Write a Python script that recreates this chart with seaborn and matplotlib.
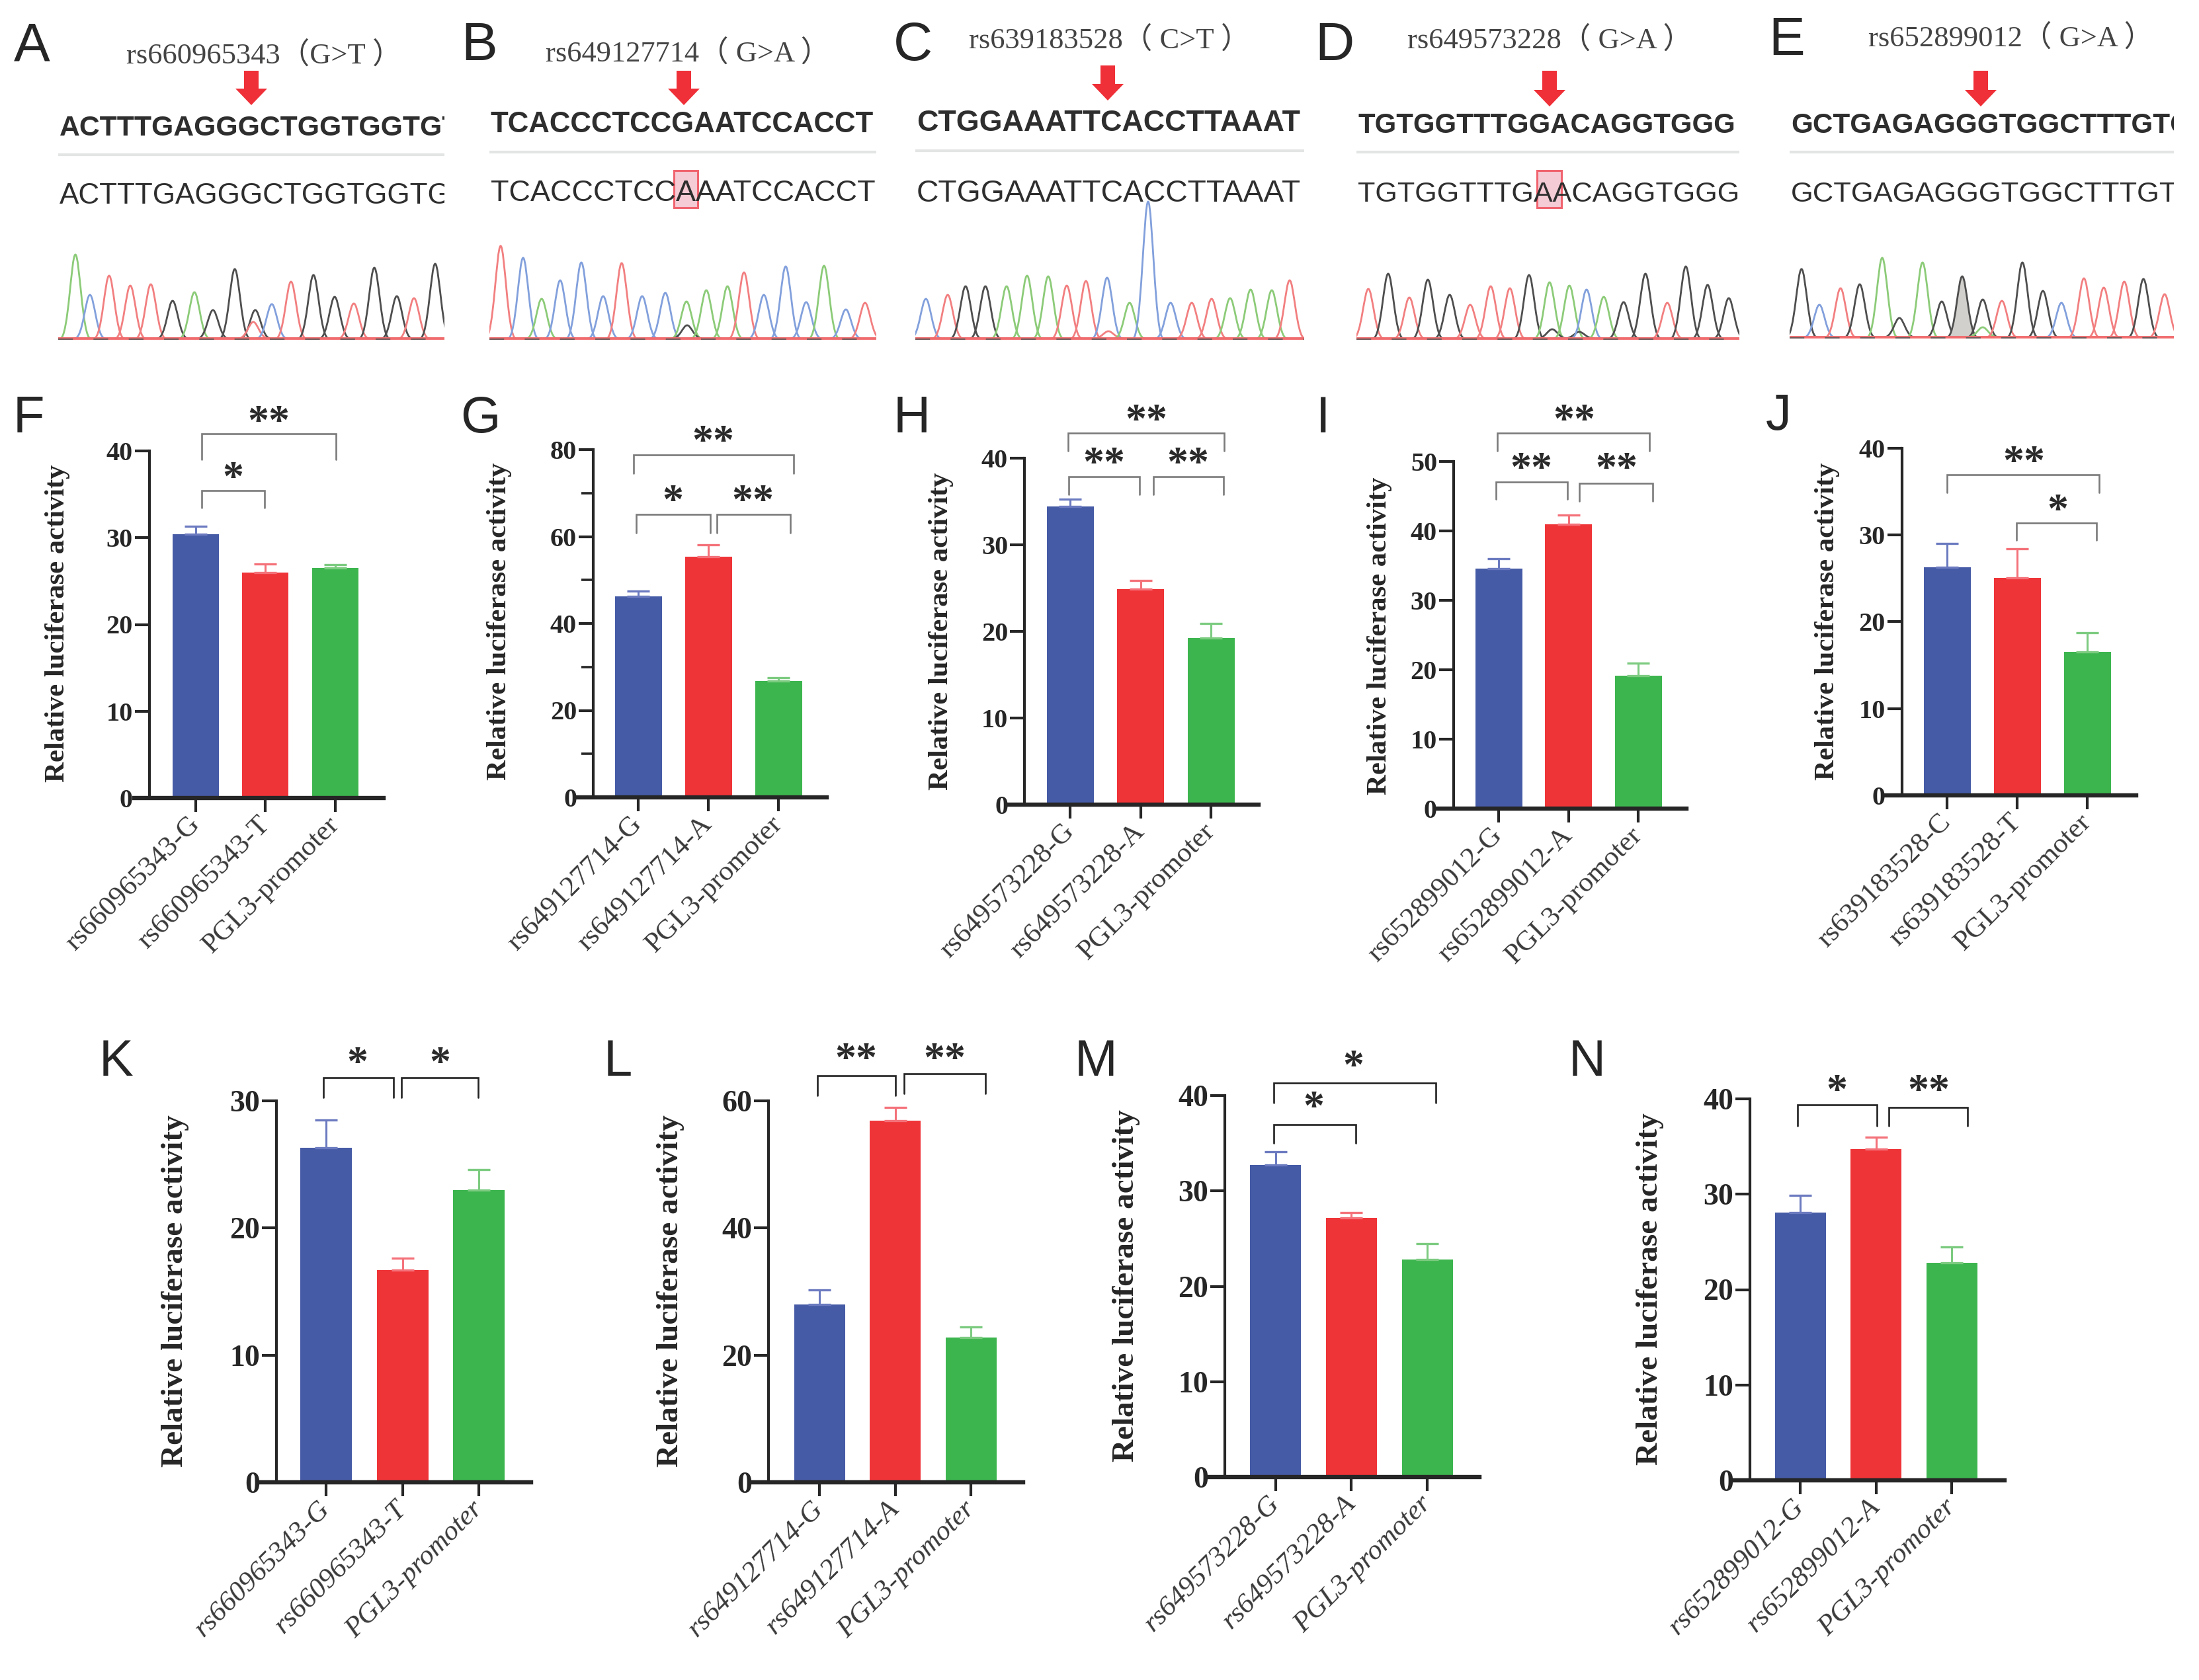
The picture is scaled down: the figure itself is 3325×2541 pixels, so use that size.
#!/usr/bin/env python3
"""
Sanger traces and luciferase reporter bars for the rs SNP panels (A-N)
"""

import matplotlib
matplotlib.use('Agg')
import matplotlib.pyplot as plt
import seaborn as sns
from matplotlib.patches import PathPatch, Rectangle
from matplotlib.path import Path

W, H = 3325, 2541

# --- bar data (mean, top of the error bar) ---
F_labels = ['rs660965343-G', 'rs660965343-T', 'PGL3-promoter']
F_means = [30.4, 26.0, 26.5]
F_upper = [31.3, 27.0, 26.9]

G_labels = ['rs649127714-G', 'rs649127714-A', 'PGL3-promoter']
G_means = [46.3, 55.4, 26.8]
G_upper = [47.5, 58.1, 27.5]

H_labels = ['rs649573228-G', 'rs649573228-A', 'PGL3-promoter']
H_means = [34.4, 24.9, 19.2]
H_upper = [35.3, 25.9, 20.9]

I_labels = ['rs652899012-G', 'rs652899012-A', 'PGL3-promoter']
I_means = [34.6, 41.0, 19.1]
I_upper = [36.0, 42.3, 21.0]

J_labels = ['rs639183528-C', 'rs639183528-T', 'PGL3-promoter']
J_means = [26.3, 25.1, 16.5]
J_upper = [29.0, 28.4, 18.75]

K_labels = F_labels
K_means = [26.3, 16.7, 23.0]
K_upper = [28.5, 17.6, 24.6]

L_labels = G_labels
L_means = [28.0, 56.9, 22.8]
L_upper = [30.3, 59.0, 24.4]

M_labels = H_labels
M_means = [32.7, 27.2, 22.8]
M_upper = [34.1, 27.7, 24.5]

N_labels = I_labels
N_means = [28.1, 34.7, 22.8]
N_upper = [29.85, 36.0, 24.5]

# --- chromatogram peaks: position, height, called base ---
A_pos = [26, 48, 77, 109, 140, 173, 206, 234, 267, 298, 295, 323, 352, 386, 418, 447, 478, 512, 538, 570]
A_height = [127, 66, 95, 80, 82, 57, 70, 43, 105, 43, 25, 52, 86, 96, 63, 53, 107, 64, 61, 113]
A_bases = 'ACTTTGAGGGTCTGGTGGTG'

B_pos = [17, 51, 79, 107, 139, 172, 200, 231, 266, 298, 299, 328, 360, 385, 415, 448, 479, 506, 539, 568]
B_height = [140, 122, 60, 88, 115, 64, 114, 64, 69, 56, 20, 73, 79, 100, 66, 109, 55, 110, 44, 54]
B_bases = 'TCACCCTCCAGAATCCCACT'

C_pos = [16, 49, 76, 106, 138, 169, 201, 229, 258, 290, 292, 324, 352, 386, 418, 448, 476, 507, 539, 566]
C_height = [60, 66, 79, 79, 79, 95, 94, 80, 87, 92, 11, 54, 207, 54, 54, 60, 61, 74, 73, 88]
C_bases = 'CTGGAAATTCTACCTTAAAT'

D_pos = [18, 48, 80, 108, 141, 172, 203, 232, 261, 292, 296, 322, 337, 348, 374, 404, 437, 470, 498, 531, 563]
D_height = [75, 98, 62, 89, 66, 51, 79, 76, 96, 85, 14, 80, 10, 74, 63, 55, 98, 54, 109, 81, 61]
D_bases = 'TGTGGTTTGAGAGCAGGTGGG'

E_pos = [18, 45, 77, 106, 140, 166, 201, 230, 261, 292, 292, 321, 352, 383, 411, 445, 475, 506, 535, 567]
E_height = [103, 49, 74, 80, 120, 29, 113, 54, 92, 57, 15, 55, 113, 70, 52, 89, 75, 84, 88, 65]
E_bases = 'GCTGAGAGGGATGGCTTTGT'

# --- sequence panels ---
seq_panels = [
    dict(letter='A', lx=21, ly=91, title='rs660965343（G>T ）', tx=399, ty=84, arrow=(380, 107, 159),
         x0=88, x1=672, top='ACTTTGAGGGCTGGTGGTGT', low='ACTTTGAGGGCTGGTGGTGT', y_top=194, y_low=297, rule=234,
         seq_fs=30.8, pos=A_pos, height=A_height, bases=A_bases, base_y=512, box=None, fill_peak=None),
    dict(letter='B', lx=697, ly=91, title='rs649127714（ G>A ）', tx=1040, ty=81, arrow=(1034, 107, 159),
         x0=740, x1=1325, top='TCACCCTCCGAATCCACCT', low='TCACCCTCCAAATCCACCT', y_top=189, y_low=293, rule=230,
         seq_fs=31.5, pos=B_pos, height=B_height, bases=B_bases, base_y=512, box=(1019, 1055), fill_peak=None),
    dict(letter='C', lx=1351, ly=91, title='rs639183528（ C>T ）', tx=1678, ty=61, arrow=(1675, 99, 152),
         x0=1384, x1=1972, top='CTGGAAATTCACCTTAAAT', low='CTGGAAATTCACCTTAAAT', y_top=187, y_low=293, rule=228,
         seq_fs=32.3, pos=C_pos, height=C_height, bases=C_bases, base_y=512, box=None, fill_peak=None),
    dict(letter='D', lx=1988, ly=91, title='rs649573228（ G>A ）', tx=2344, ty=61, arrow=(2343, 107, 161),
         x0=2051, x1=2630, top='TGTGGTTTGGACAGGTGGG', low='TGTGGTTTGAACAGGTGGG', y_top=190, y_low=294, rule=230,
         seq_fs=30.2, pos=D_pos, height=D_height, bases=D_bases, base_y=512, box=(2324, 2361), fill_peak=None),
    dict(letter='E', lx=2674, ly=83, title='rs652899012（ G>A ）', tx=3041, ty=58, arrow=(2995, 107, 161),
         x0=2706, x1=3287, top='GCTGAGAGGGTGGCTTTGTG', low='GCTGAGAGGGTGGCTTTGTG', y_top=190, y_low=294, rule=230,
         seq_fs=30.4, pos=E_pos, height=E_height, bases=E_bases, base_y=510, box=None, fill_peak=8),
]

# --- bar panels: pixel frame, bar centres, brackets (x1, x2, top, bottom), stars (text, x, y) ---
bar_panels = [
    dict(letter='F', lx=20, ly=654, labels=F_labels, means=F_means, upper=F_upper,
         ax_x=226, right=580, left=203, y0=1207, ytop=682, ymax=40, major=10, minor=None,
         centres=(296, 402, 507), bw=70, ylab=(87, 943), fs=30.7,
         brackets=[(305, 508, 656, 695), (305, 400, 742, 768)],
         stars=[('**', 406, 626), ('*', 352, 711)]),
    dict(letter='G', lx=696, ly=654, labels=G_labels, means=G_means, upper=G_upper,
         ax_x=897, right=1250, left=874, y0=1206, ytop=680, ymax=80, major=20, minor=10,
         centres=(965, 1071, 1177), bw=71, ylab=(755, 940), fs=30.7,
         brackets=[(958, 1200, 688, 716), (962, 1074, 778, 806), (1084, 1195, 778, 806)],
         stars=[('**', 1078, 656), ('*', 1017, 746), ('**', 1138, 746)]),
    dict(letter='H', lx=1351, ly=654, labels=H_labels, means=H_means, upper=H_upper,
         ax_x=1549, right=1903, left=1526, y0=1217, ytop=693, ymax=40, major=10, minor=None,
         centres=(1618, 1725, 1831), bw=71, ylab=(1423, 955), fs=30.7,
         brackets=[(1615, 1851, 655, 682), (1616, 1723, 721, 748), (1744, 1850, 721, 748)],
         stars=[('**', 1733, 624), ('**', 1669, 689), ('**', 1796, 689)]),
    dict(letter='I', lx=1990, ly=654, labels=I_labels, means=I_means, upper=I_upper,
         ax_x=2198, right=2550, left=2174, y0=1223, ytop=698, ymax=50, major=10, minor=None,
         centres=(2266, 2371, 2477), bw=71, ylab=(2086, 962), fs=30.7,
         brackets=[(2264, 2494, 655, 682), (2262, 2370, 729, 755), (2388, 2499, 731, 758)],
         stars=[('**', 2380, 624), ('**', 2315, 697), ('**', 2444, 697)]),
    dict(letter='J', lx=2670, ly=650, labels=J_labels, means=J_means, upper=J_upper,
         ax_x=2876, right=3230, left=2852, y0=1203, ytop=678, ymax=40, major=10, minor=None,
         centres=(2944, 3050, 3156), bw=71, ylab=(2763, 940), fs=30.7,
         brackets=[(2944, 3174, 718, 745), (3049, 3170, 791, 817)],
         stars=[('**', 3060, 687), ('*', 3111, 760)]),
    dict(letter='K', lx=150, ly=1627, labels=K_labels, means=K_means, upper=K_upper,
         ax_x=418, right=803, left=390, y0=2242, ytop=1665, ymax=30, major=10, minor=None,
         centres=(493, 608, 724), bw=78, ylab=(265, 1953), fs=34,
         brackets=[(489, 595, 1630, 1660), (607, 723, 1630, 1660)],
         stars=[('*', 540, 1596), ('*', 665, 1596)]),
    dict(letter='L', lx=913, ly=1627, labels=L_labels, means=L_means, upper=L_upper,
         ax_x=1162, right=1547, left=1136, y0=2242, ytop=1665, ymax=60, major=20, minor=None,
         centres=(1239, 1354, 1468), bw=77, ylab=(1014, 1953), fs=34,
         brackets=[(1236, 1354, 1627, 1657), (1367, 1490, 1624, 1654)],
         stars=[('**', 1294, 1590), ('**', 1428, 1590)]),
    dict(letter='M', lx=1625, ly=1627, labels=M_labels, means=M_means, upper=M_upper,
         ax_x=1852, right=2237, left=1828, y0=2234, ytop=1657, ymax=40, major=10, minor=None,
         centres=(1929, 2044, 2158), bw=77, ylab=(1703, 1945), fs=34,
         brackets=[(1926, 2171, 1638, 1668), (1926, 2050, 1701, 1729)],
         stars=[('*', 2046, 1601), ('*', 1986, 1663)]),
    dict(letter='N', lx=2372, ly=1627, labels=N_labels, means=N_means, upper=N_upper,
         ax_x=2646, right=3031, left=2619, y0=2239, ytop=1662, ymax=40, major=10, minor=None,
         centres=(2722, 2836, 2951), bw=77, ylab=(2495, 1950), fs=34,
         brackets=[(2718, 2838, 1671, 1703), (2856, 2975, 1675, 1703)],
         stars=[('*', 2777, 1638), ('**', 2916, 1638)]),
]

bar_colors = ['#465BA6', '#EF3438', '#3DB54F']
err_colors = ['#6C7BC0', '#F4727A', '#7CCB80']
trace_colors = {'A': '#8CCB78', 'C': '#82A0DC', 'G': '#4E4E4E', 'T': '#F27F80'}
INK = '#262626'
SERIF = ['Liberation Serif', 'Noto Sans CJK SC']
SANS = ['Liberation Sans']

sns.set_theme(style='ticks', rc={'axes.facecolor': 'none', 'figure.facecolor': 'white'})
plt.rcParams['font.family'] = SERIF

fig = plt.figure(figsize=(W / 100, H / 100), dpi=100)


def px_axes(left, right, top, bottom):
    """Axes placed by pixel edges, y counted from the top of the image"""
    return fig.add_axes([left / W, 1 - bottom / H, (right - left) / W, (bottom - top) / H])


overlay = px_axes(0, W, 0, H)
overlay.set_xlim(0, W)
overlay.set_ylim(H, 0)
overlay.axis('off')
overlay.set_zorder(5)


def panel_letter(letter, x, y, size):
    overlay.text(x, y, letter, family=SANS, fontsize=size, color=INK, ha='left', va='baseline')


def draw_trace(p):
    ax = px_axes(p['x0'], p['x1'], p['base_y'] - 240, p['base_y'])
    ax.set_xlim(0, p['x1'] - p['x0'])
    ax.set_ylim(0, 240)
    ax.axis('off')
    half = 23
    for i, (x, h, base) in enumerate(zip(p['pos'], p['height'], p['bases'])):
        verts = [(x - half, 0), (x - half * 0.45, 0), (x - half * 0.28, h), (x, h),
                 (x + half * 0.28, h), (x + half * 0.45, 0), (x + half, 0)]
        codes = [Path.MOVETO] + [Path.CURVE4] * 6
        filled = p['fill_peak'] == i
        ax.add_patch(PathPatch(Path(verts, codes), fill=filled, facecolor='#D2D0CC',
                               edgecolor=trace_colors[base], lw=2.0, clip_on=True))
    # noisy floor of the trace
    overlay.plot([p['x0'], p['x1']], [p['base_y'], p['base_y']], color='#F06C6E', lw=2.8, solid_capstyle='butt')
    overlay.plot([p['x0'], p['x1']], [p['base_y'] + 1, p['base_y'] + 1], color='#555555', lw=1.6,
                 ls=(0, (10, 14)), alpha=0.8)


def draw_sequence_panel(p):
    panel_letter(p['letter'], p['lx'], p['ly'], 59)
    overlay.text(p['tx'], p['ty'], p['title'], fontsize=32, color='#444444', ha='center', va='center')
    x, y0, y1 = p['arrow']
    overlay.arrow(x, y0, 0, y1 - y0, width=22, head_width=48, head_length=25,
                  length_includes_head=True, color='#EF3038', lw=0)
    overlay.plot([p['x0'], p['x1']], [p['rule'], p['rule']], color='#E3E4E4', lw=3, solid_capstyle='butt')
    if p['box'] is not None:
        overlay.add_patch(Rectangle((p['box'][0], 258), p['box'][1] - p['box'][0], 56,
                                    facecolor='#F5CBD6', edgecolor='#F0646F', lw=2.2))
    clip = Rectangle((p['x0'], 150), p['x1'] - p['x0'], 180, transform=overlay.transData)
    # regular Liberation Sans runs narrower than bold, so it gets a larger size for the same span
    for text, y, weight, fs in ((p['top'], p['y_top'], 'bold', p['seq_fs']),
                                (p['low'], p['y_low'], 'normal', p['seq_fs'] * 1.03)):
        t = overlay.text(p['x0'] + 2, y, text, family=SANS, fontsize=fs, weight=weight,
                         color='#2E2E2E', ha='left', va='center', zorder=6, clip_on=True)
        t.set_clip_path(clip)
    draw_trace(p)


def draw_stars(text, x, y):
    # the asterisk sits high in its line, so anchor on the baseline
    overlay.text(x, y + 30, text, fontsize=46, weight='bold', color='#2A2A2A', ha='center', va='baseline')


def draw_bar_panel(p, idx):
    panel_letter(p['letter'], p['lx'], p['ly'], 56)
    ax = px_axes(p['ax_x'], p['right'], p['ytop'], p['y0'])
    c0, _, c2 = p['centres']
    step = (c2 - c0) / 2
    sns.barplot(x=p['labels'], y=p['means'], hue=p['labels'], palette=bar_colors, legend=False,
                width=p['bw'] / step, errorbar=None, saturation=1, linewidth=0, ax=ax)
    for i in range(3):
        ax.errorbar(i, p['means'][i], yerr=[[0], [p['upper'][i] - p['means'][i]]], color=err_colors[i],
                    elinewidth=2.2, capsize=12.5, capthick=2.4, zorder=1)
    ax.set_xlim((p['ax_x'] - c0) / step, (p['right'] - c0) / step)
    ax.set_ylim(0, p['ymax'])
    ax.set_yticks(list(range(0, p['ymax'] + 1, p['major'])))
    if p['minor']:
        ax.set_yticks(list(range(p['minor'], p['ymax'], p['major'])), minor=True)
        ax.tick_params(axis='y', which='minor', length=13, width=2.6, color=INK)
    sns.despine(ax=ax)
    ax.spines['left'].set_linewidth(3)
    ax.spines['bottom'].set_linewidth(4.6)
    ax.spines['left'].set_color(INK)
    ax.spines['bottom'].set_color(INK)
    ax.spines['bottom'].set_bounds((p['left'] - c0) / step, (p['right'] - c0) / step)
    big = idx >= 5
    ax.tick_params(axis='y', which='major', length=16, width=3, color=INK, pad=2,
                   labelsize=33 if big else 29, labelcolor=INK)
    ax.tick_params(axis='x', length=15, width=3, color=INK, pad=10)
    for lbl in ax.get_yticklabels():
        lbl.set_fontweight('bold')
    ax.set_xticks([0, 1, 2])
    ax.set_xticklabels(p['labels'], rotation=45, ha='right', va='center', rotation_mode='anchor',
                       fontsize=31, color='#3A3A3A', style='italic' if big else 'normal')
    ax.set_ylabel('Relative luciferase activity', fontsize=p['fs'], weight='bold', color=INK,
                  ha='center', va='center')
    ax.yaxis.set_label_coords((p['ylab'][0] - p['ax_x']) / (p['right'] - p['ax_x']),
                              (p['y0'] - p['ylab'][1]) / (p['y0'] - p['ytop']))
    line_color = '#222222' if big else '#7B7B7B'
    for x1, x2, top, bottom in p['brackets']:
        overlay.plot([x1, x1, x2, x2], [bottom, top, top, bottom], color=line_color, lw=1.9,
                     solid_joinstyle='miter')
    for text, x, y in p['stars']:
        draw_stars(text, x, y)


for panel in seq_panels:
    draw_sequence_panel(panel)

for n, panel in enumerate(bar_panels):
    draw_bar_panel(panel, n)

fig.savefig('out.png', dpi=100)
plt.close(fig)
